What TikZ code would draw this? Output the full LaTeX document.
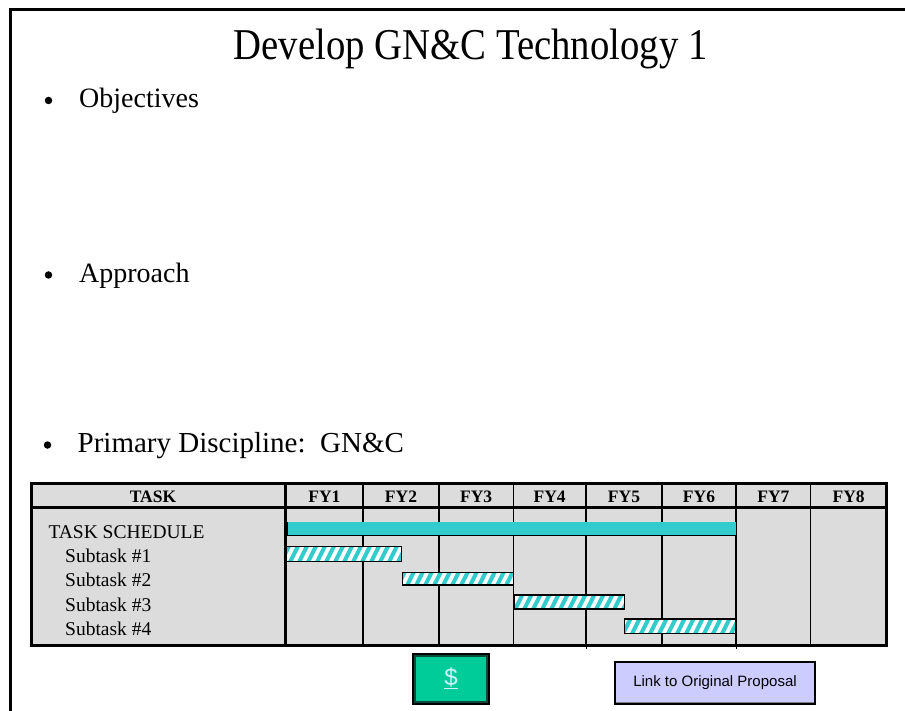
\documentclass[tikz,border=0pt]{standalone}
\usepackage{fontspec}
\setmainfont{Liberation Serif}
\newfontfamily\btnfont{Liberation Sans}
\definecolor{cellgray}{HTML}{DCDCDC}
\definecolor{barcyan}{HTML}{33CCCC}
\definecolor{btngreen}{HTML}{00CC99}
\definecolor{btnedge}{HTML}{0A4A3A}
\definecolor{btnlav}{HTML}{CCCCFF}
\definecolor{dollar}{HTML}{CCF2FF}
\newcommand{\hatchbar}[4]{%
  \fill[white] (#1,#2) rectangle (#3,#4);
  \begin{scope}
    \clip (#1,#2) rectangle (#3,#4);
    \foreach \k in {270,279,...,750}
      \fill[barcyan] (\k,#4) -- ++(4.5,0) -- ++(8,-16) -- ++(-4.5,0) -- cycle;
  \end{scope}
  \draw[line width=1.3] (#1,#2) rectangle (#3,#4);
}
\tikzset{
  bigtitle/.style={anchor=base, inner sep=0pt, font=\fontsize{44}{44}\selectfont},
  bullettext/.style={anchor=base west, inner sep=0pt, font=\fontsize{28}{28}\selectfont},
  bulletdot/.style={circle, fill=black, inner sep=0pt, minimum size=7.5pt},
  hdr/.style={anchor=base, inner sep=0pt, font=\fontsize{17.5}{17.5}\selectfont\bfseries},
  rowlabel/.style={anchor=base west, inner sep=0pt, font=\fontsize{19.5}{19.5}\selectfont},
  colline/.style={line width=1.4pt},
}
\begin{document}
\begin{tikzpicture}[x=1pt,y=-1pt]
\useasboundingbox (0,0) rectangle (905,711);
% slide frame
\draw[line width=3pt] (9,9.5) -- (905,9.5);
\draw[line width=3pt] (10.5,8) -- (10.5,711);
% title
\node[bigtitle] (title) at (470.5,59.3) {\scalebox{0.88}[1]{Develop GN\&C Technology 1}};
% bullets
\node[bulletdot] (b1) at (48.5,100.5) {};
\node[bullettext] (obj) at (79,107.7) {Objectives};
\node[bulletdot] (b2) at (48.5,275) {};
\node[bullettext] (app) at (79,282.3) {Approach};
\node[bulletdot] (b3) at (47.5,445) {};
\node[bullettext, font=\fontsize{29}{29}\selectfont] (prim) at (77.5,452.3) {Primary Discipline:\ \ GN\&C};
% table
\fill[cellgray] (31.7,483) rectangle (886.7,645.7);
\foreach \xx in {363,439,513.3,586,662,736,810.7}
  \draw[colline] (\xx,483) -- (\xx,645.7);
\draw[line width=2.6pt] (285.7,483) -- (285.7,645.7);
\draw[line width=3pt] (31.7,507.5) -- (886.7,507.5);
\draw[line width=3pt] (31.7,483) rectangle (886.7,645.7);
% header labels
\node[hdr] (htask) at (153,502.3) {TASK};
\node[hdr] (fy1) at (324.4,502.3) {FY1};
\node[hdr] (fy2) at (401,502.3) {FY2};
\node[hdr] (fy3) at (476.2,502.3) {FY3};
\node[hdr] (fy4) at (549.7,502.3) {FY4};
\node[hdr] (fy5) at (624,502.3) {FY5};
\node[hdr] (fy6) at (699,502.3) {FY6};
\node[hdr] (fy7) at (773.4,502.3) {FY7};
\node[hdr] (fy8) at (848.7,502.3) {FY8};
% row labels
\node[rowlabel] (rsched) at (48.3,538.3) {TASK SCHEDULE};
\node[rowlabel] (rs1) at (65,562.5) {Subtask \#1};
\node[rowlabel] (rs2) at (65,586.7) {Subtask \#2};
\node[rowlabel] (rs3) at (65,611.2) {Subtask \#3};
\node[rowlabel] (rs4) at (65,635.5) {Subtask \#4};
% bars
\fill[barcyan] (286,521.7) rectangle (736,535.7);
\draw[line width=1pt] (286,535.7) -- (736,535.7);
\draw[line width=2pt] (287,521.7) -- (287,535.7);
\hatchbar{286.7}{546.7}{401.7}{561.7}
\hatchbar{402.7}{572.3}{513.3}{585}
\hatchbar{514.3}{595}{624.3}{609}
\hatchbar{624.3}{619}{736}{633.3}
% small ticks below table
\draw[line width=1pt] (586,645.7) -- (586,649);
\draw[line width=1pt] (736,645.7) -- (736,649);
% dollar button
\node[draw=black, line width=2pt, fill=btngreen, minimum width=76pt, minimum height=50pt, inner sep=0pt] (cost) at (451,679) {};
\draw[btnedge, line width=1.2pt] ([shift={(3,-3)}]cost.south west) rectangle ([shift={(-3,3)}]cost.north east);
\node[text=dollar, font=\btnfont\fontsize{24}{24}\selectfont, inner sep=0pt] (dsign) at (451,678) {\underline{\$}};
% link button
\node[draw=black, line width=2pt, fill=btnlav, minimum width=200pt, minimum height=42pt, inner sep=0pt, font=\btnfont\fontsize{15}{15}\selectfont] (link) at (715,683) {Link to Original Proposal};
\draw[gray, line width=1.5pt] ([shift={(2,-2.5)}]link.south west) -- ([shift={(-2,-2.5)}]link.south east);
\end{tikzpicture}
\end{document}
